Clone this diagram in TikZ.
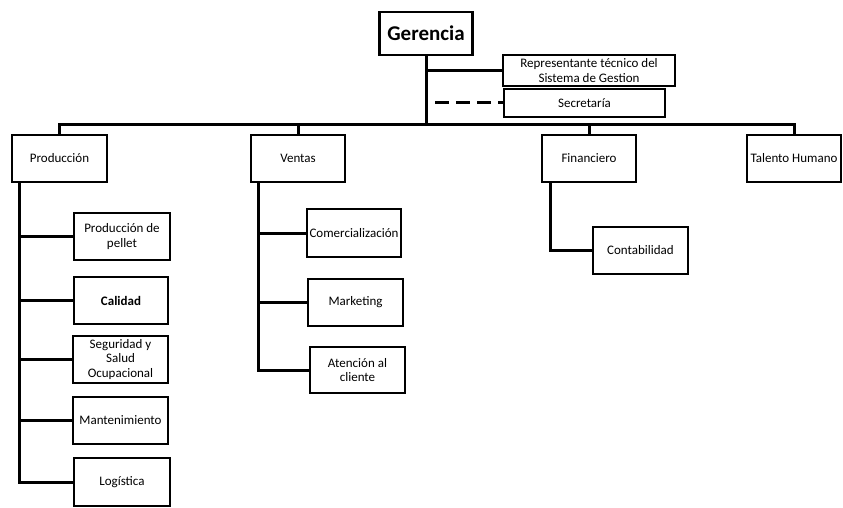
\documentclass[tikz,border=0pt]{standalone}
\usepackage{fontspec}
\setmainfont{Carlito}
\begin{document}
\begin{tikzpicture}[x=1pt,y=-1pt,
  bx/.style={draw,line width=2.6pt,inner sep=0pt,align=center,font=\fontsize{13}{14.5}\selectfont},
  ln/.style={line width=3pt},
  dsh/.style={line width=3pt,dash pattern=on 14pt off 7pt}]
\useasboundingbox (0,0) rectangle (843,508);
% top
\node[bx,minimum width=93,minimum height=43,font=\fontsize{21}{24}\bfseries] (ger) at (426,33.5) {Gerencia};
\node[bx,minimum width=172,minimum height=31] (rep) at (589,70.5) {Representante técnico del\\Sistema de Gestion};
\node[bx,minimum width=161,minimum height=28] (sec) at (584.5,103) {Secretaría};
\coordinate (bar) at (0,125);
% level 1
\node[bx,minimum width=95,minimum height=47] (prod) at (59.5,158.5) {Producción};
\node[bx,minimum width=94,minimum height=47] (vent) at (298,158.5) {Ventas};
\node[bx,minimum width=94,minimum height=47] (fin) at (589,158.5) {Financiero};
\node[bx,minimum width=94,minimum height=47] (tal) at (794,158.5) {Talento Humano};
% produccion children
\node[bx,minimum width=96,minimum height=47] (pel) at (122,236.5) {Producción de\\pellet};
\node[bx,minimum width=94,minimum height=47,font=\fontsize{13}{14.5}\bfseries] (cal) at (121,300.5) {Calidad};
\node[bx,minimum width=95,minimum height=47] (seg) at (120.5,359.5) {Seguridad y\\Salud\\Ocupacional};
\node[bx,minimum width=95,minimum height=47] (man) at (120.5,420.5) {Mantenimiento};
\node[bx,minimum width=96,minimum height=48] (log) at (122,482) {Logística};
% ventas children
\node[bx,minimum width=94,minimum height=48] (com) at (354,233) {Comercialización};
\node[bx,minimum width=95,minimum height=47] (mkt) at (355.5,302.5) {Marketing};
\node[bx,minimum width=95,minimum height=46] (ate) at (357.5,370) {Atención al\\cliente};
% financiero child
\node[bx,minimum width=95,minimum height=47] (cont) at (640.5,250.5) {Contabilidad};
% connectors top
\draw[ln] (ger.south) -- (ger.south |- bar);
\draw[ln] (ger.south |- rep.west) -- (rep.west);
\draw[dsh] ([xshift=9pt]ger.south |- sec.west) -- (sec.west);
\draw[ln] (prod.north) -- (prod.north |- bar) -| (tal.north);
\draw[ln] (vent.north) -- (vent.north |- bar);
\draw[ln] (fin.north) -- (fin.north |- bar);
% produccion
\coordinate (pv) at ([xshift=9pt]prod.south west);
\draw[ln] (pv) -- (pv |- log.west) -- (log.west);
\foreach \n in {pel,cal,seg,man} \draw[ln] (pv |- \n.west) -- (\n.west);
% ventas
\coordinate (vv) at ([xshift=9pt]vent.south west);
\draw[ln] (vv) -- (vv |- ate.west) -- (ate.west);
\foreach \n in {com,mkt} \draw[ln] (vv |- \n.west) -- (\n.west);
% financiero
\coordinate (fv) at ([xshift=10pt]fin.south west);
\draw[ln] (fv) -- (fv |- cont.west) -- (cont.west);
\end{tikzpicture}
\end{document}
